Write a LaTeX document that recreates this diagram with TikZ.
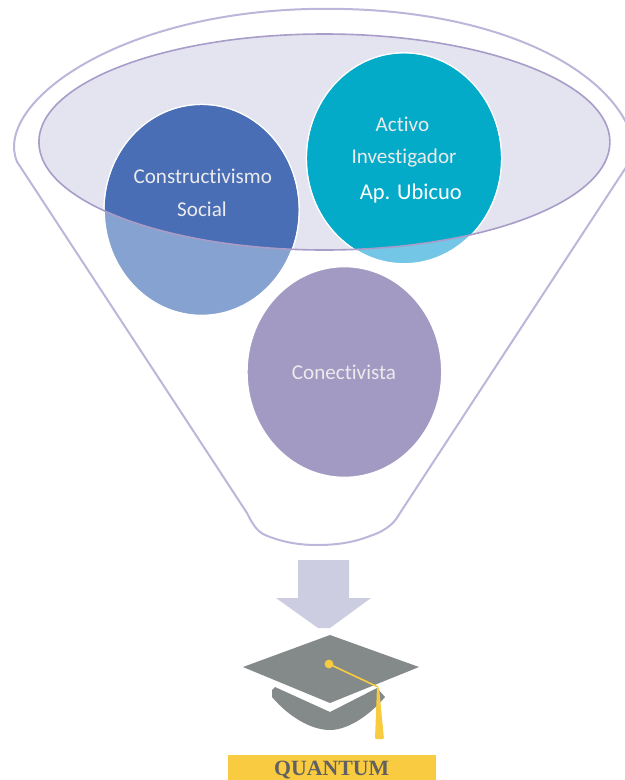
\documentclass[tikz,border=0pt]{standalone}
\usepackage{fontspec}
\setmainfont{Carlito}[Ligatures=NoCommon]
\newfontfamily\capfont{Liberation Serif}
\usetikzlibrary{shapes.geometric}
\definecolor{funnelline}{HTML}{BDB6DA}
\definecolor{rimline}{HTML}{A89CC8}
\definecolor{rimfill}{HTML}{E4E4F0}
\definecolor{socialdark}{HTML}{4A6EB5}
\definecolor{sociallight}{HTML}{86A2D0}
\definecolor{activodark}{HTML}{04ABC9}
\definecolor{activolight}{HTML}{73C6E6}
\definecolor{conectfill}{HTML}{A39AC4}
\definecolor{arrowfill}{HTML}{CDCDE2}
\definecolor{capgrey}{HTML}{848A8A}
\definecolor{capgold}{HTML}{F9CB40}
\tikzset{bubble/.style={ellipse, draw=white, line width=0.4mm, inner sep=0pt, minimum width=48.75mm, minimum height=52.75mm},
  label/.style={text=white!92!black, font=\fontsize{15}{15}\selectfont, inner sep=0pt},
  cap/.pic={
    \fill[capgrey] (272mm/4,-690mm/4) -- (275mm/4,-687mm/4) -- (330mm/4,-712mm/4) -- (377mm/4,-688mm/4) -- (385mm/4,-697mm/4)
      .. controls (370mm/4,-715mm/4) and (348mm/4,-730mm/4) .. (330mm/4,-730mm/4)
      .. controls (312mm/4,-730mm/4) and (290mm/4,-718mm/4) .. (272mm/4,-697mm/4) -- cycle;
    \fill[capgrey] (330mm/4,-635mm/4) -- (419mm/4,-667mm/4) -- (330mm/4,-703mm/4) -- (243mm/4,-667mm/4) -- cycle;
    \draw[capgold, line width=0.4mm] (329mm/4,-664mm/4) -- (378mm/4,-687mm/4);
    \fill[capgold] (329mm/4,-664mm/4) circle (1.1mm);
    \fill[capgold, rounded corners=0.3mm] (377mm/4,-687mm/4) -- (379mm/4,-687mm/4) -- (384mm/4,-739mm/4) -- (375mm/4,-739mm/4) -- cycle;
  }
}
\begin{document}
\begin{tikzpicture}
  \useasboundingbox (0mm, 0mm) rectangle (156.25mm, -195mm);
  \begin{scope}
    \clip (0mm, 0mm) rectangle (156.25mm, -195mm);
    % funnel
    \draw[funnelline, line width=0.5mm] (4.3mm, -40.5mm)
      .. controls (-2mm, -26mm) and (30mm, -2mm) .. (82mm, -2.2mm)
      .. controls (125mm, -2.2mm) and (156mm, -18mm) .. (159mm, -38mm)
      -- (100mm, -128.25mm)
      .. controls (98.75mm, -130.5mm) and (97mm, -132.5mm) .. (92.5mm, -134mm)
      .. controls (88mm, -135.75mm) and (83.75mm, -136.25mm) .. (79.25mm, -136.25mm)
      .. controls (74.5mm, -136.25mm) and (70.5mm, -135.5mm) .. (66.25mm, -133.75mm)
      .. controls (64mm, -132.75mm) and (62.75mm, -130.25mm) .. (61.75mm, -128.25mm)
      -- cycle;
  \end{scope}
  % rim
  \node[ellipse, fill=rimfill, minimum width=142.75mm, minimum height=54mm, inner sep=0pt] (rim) at (81.1mm, -35.5mm) {};
  % bubbles
  \node[bubble, fill=sociallight] (social) at (50.4mm, -52.5mm) {};
  \node[bubble, fill=activolight] (activo) at (101mm, -39.6mm) {};
  \node[bubble, fill=conectfill] (conect) at (86.1mm, -93mm) {};
  \begin{scope}
    \clip (81.1mm, -35.5mm) ellipse (71.4mm and 27mm);
    \fill[socialdark] (social.center) ellipse (24.2mm and 26.2mm);
    \fill[activodark] (activo.center) ellipse (24.2mm and 26.2mm);
  \end{scope}
  \node[ellipse, draw=rimline, line width=0.4mm, minimum width=142.75mm, minimum height=54mm, inner sep=0pt] (rimline) at (rim.center) {};
  % texts
  \node[label] (social1) at (50.7mm, -44mm) {Constructivismo};
  \node[label] (social2) at (50.5mm, -52.3mm) {Social};
  \node[label] (activo1) at (100.6mm, -31.2mm) {Activo};
  \node[label] (activo2) at (101mm, -39.5mm) {Investigador};
  \node[label, text=white, font=\fontsize{16}{16}\selectfont] (activo3) at (102.7mm, -48.4mm) {Ap. Ubicuo};
  \node[label] (conect1) at (86mm, -93mm) {Conectivista};
  % arrow
  \fill[arrowfill] (74.5mm, -140mm) -- (87.25mm, -140mm) -- (87.25mm, -149.5mm) -- (92.75mm, -149.5mm)
    -- (82.5mm, -157mm) -- (79.5mm, -157mm) -- (69mm, -149.5mm) -- (74.5mm, -149.5mm) -- cycle;
  \pic {cap};
  % banner
  \node[fill=capgold, minimum width=52mm, minimum height=6.25mm, inner sep=0pt] (banner) at (83mm, -191.9mm) {};
  \node[text=black!62, font=\capfont\bfseries\fontsize{15.5}{15.5}\selectfont, inner sep=0pt] (quantum) at (82.9mm, -192.4mm) {QUANTUM};
\end{tikzpicture}
\end{document}
